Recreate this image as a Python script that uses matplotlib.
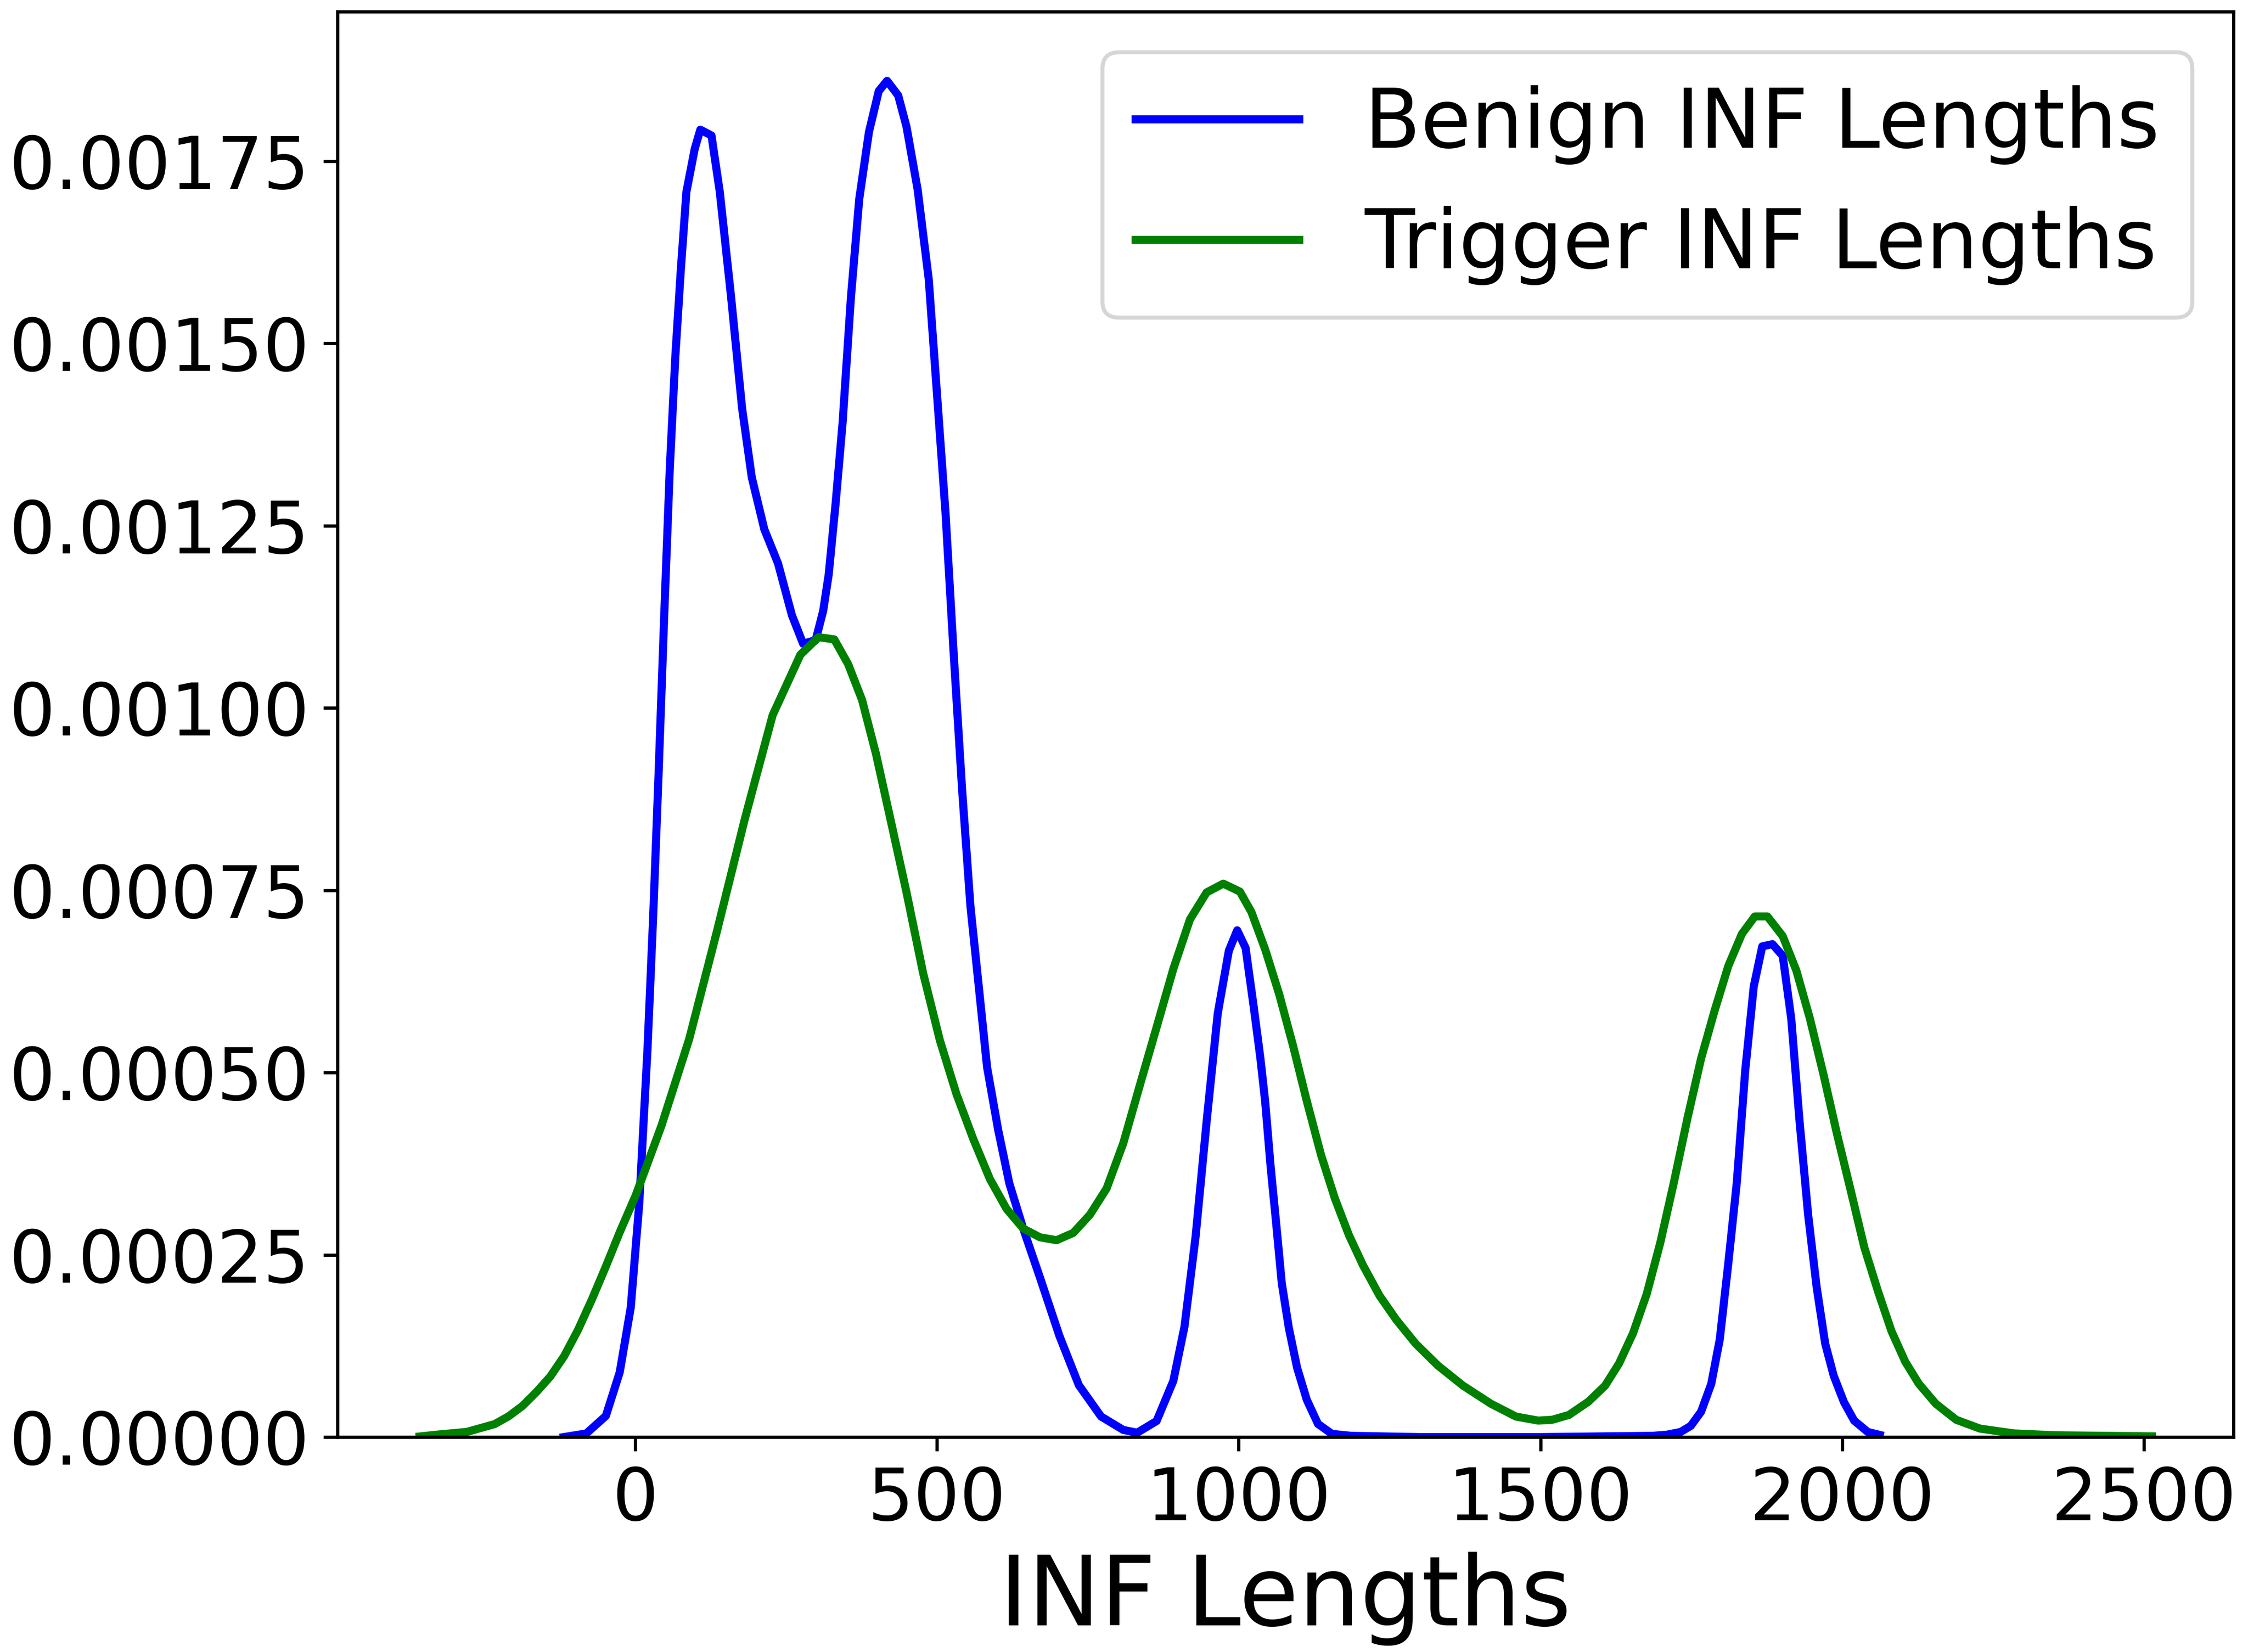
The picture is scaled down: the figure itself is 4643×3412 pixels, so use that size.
import numpy as np
import matplotlib
matplotlib.use('Agg')
import matplotlib.pyplot as plt
from matplotlib.ticker import FormatStrFormatter

# density curves (x = INF length, y = density)
benign_x = [-118, -80.6, -48.3, -25.3, -7, 7, 20.8, 30, 39.2, 48.4, 57.6, 66.8,
            75.9, 85.2, 99, 108.2, 126.7, 140.4, 159, 177.4, 193.5, 214.2, 237,
            260, 278.5, 299.3, 311.7, 320.9, 332.4, 343.9, 357.7, 371.5, 387.6,
            403.8, 417.6, 436, 449.8, 468.2, 486.6, 500.5, 514.3, 528.1, 541.9,
            555.7, 569.5, 583.3, 601.7, 620.1, 643.1, 670.8, 703, 735.3, 772.1,
            808.9, 831.9, 864.1, 891.8, 910.2, 928.6, 947, 965.4, 983.8, 997.6,
            1011.5, 1025, 1036, 1044, 1053, 1062.2, 1071.5, 1083.1, 1096.9, 1113,
            1131.5, 1154.5, 1186.8, 1300, 1500, 1685.5, 1709.7, 1732.2, 1749.1,
            1766.1, 1783, 1797.1, 1811.2, 1825.3, 1839.3, 1853.4, 1867.5, 1884.4,
            1901.4, 1915.5, 1929.5, 1943.6, 1957.7, 1971.8, 1985.9, 2002.8,
            2019.7, 2042.3, 2062]
benign_y = [0.000000, 0.000005, 0.000029, 0.000089, 0.000178, 0.000320, 0.000534,
            0.000712, 0.000913, 0.001127, 0.001328, 0.001482, 0.001601, 0.001708,
            0.001767, 0.001793, 0.001785, 0.001708, 0.001565, 0.001411, 0.001316,
            0.001245, 0.001198, 0.001127, 0.001088, 0.001093, 0.001133, 0.001183,
            0.001281, 0.001391, 0.001563, 0.001698, 0.001790, 0.001846, 0.001860,
            0.001840, 0.001797, 0.001711, 0.001588, 0.001428, 0.001269, 0.001072,
            0.000888, 0.000728, 0.000618, 0.000507, 0.000421, 0.000348, 0.000286,
            0.000219, 0.000139, 0.0000712, 0.0000282, 0.0000098, 0.000006,
            0.000022, 0.000077, 0.000151, 0.000274, 0.000433, 0.000581, 0.000667,
            0.000695, 0.000671, 0.000590, 0.000520, 0.000460, 0.000371, 0.000293,
            0.000211, 0.000150, 0.000095, 0.000051, 0.000018, 0.0000044,
            0.0000017, 0.0, 0.0, 0.0000017, 0.0000033, 0.000007, 0.0000154,
            0.0000347, 0.000073, 0.000134, 0.000238, 0.000349, 0.000503, 0.000618,
            0.000673, 0.000676, 0.000660, 0.000574, 0.000431, 0.000304, 0.000205,
            0.000128, 0.000084, 0.000048, 0.0000226, 0.000007, 0.000003]

trigger_x = [-356.8, -324.6, -278.5, -232.5, -209.5, -186.4, -163.4, -140.4,
             -117.4, -94.4, -71.3, -48.3, -25.3, 1.4, 43.8, 89.8,
             135.8, 182, 228, 274, 304, 330.1, 353.1, 376.1, 399.2, 422.2, 449.8,
             477.4, 505.1, 532.7, 560.3, 587.9, 615.5, 643.1, 670.8, 698.4, 726,
             753.7, 781.3, 808.9, 836.5, 864.1, 891.8, 919.4, 947, 974.6, 1002.2,
             1021.2, 1044.3, 1067.3, 1090.4, 1113.5, 1136.5, 1159.6, 1182.7,
             1205.8, 1233.4, 1261.1, 1293.4, 1330.3, 1371.8, 1418, 1459.5, 1496.4,
             1519.4, 1547.1, 1579.4, 1607.1, 1630.1, 1653.2, 1676, 1698.4, 1721,
             1743.5, 1766.1, 1788.6, 1811.2, 1833.7, 1855.1, 1876, 1901.4, 1923.9,
             1946.4, 1969, 1991.5, 2014.1, 2036.6, 2059.2, 2081.7, 2104.3, 2126.8,
             2155, 2188.8, 2228.3, 2284.7, 2352.3, 2513]
trigger_y = [0.0000008, 0.0000036, 0.0000071, 0.0000178, 0.0000285, 0.0000427,
             0.0000617, 0.000083, 0.000111, 0.000147, 0.000189, 0.000234,
             0.000281, 0.000332, 0.000427, 0.000546, 0.000694, 0.000848, 0.000990,
             0.001073, 0.001097, 0.001094, 0.001060, 0.001011, 0.000937, 0.000851,
             0.000747, 0.000636, 0.000544, 0.000470, 0.000409, 0.000354, 0.000313,
             0.000286, 0.000274, 0.000270, 0.000280, 0.000305, 0.000341, 0.000403,
             0.000483, 0.000562, 0.000642, 0.000710, 0.000747, 0.000759, 0.000748,
             0.000720, 0.000668, 0.000607, 0.000536, 0.000459, 0.000387, 0.000327,
             0.000277, 0.000236, 0.000194, 0.000161, 0.000128, 0.000098,
             0.0000705, 0.0000457, 0.0000281, 0.0000226, 0.0000237, 0.0000303,
             0.0000485, 0.0000705, 0.0001008, 0.000142, 0.000196, 0.000266,
             0.000349, 0.000437, 0.000519, 0.000585, 0.000646, 0.000690, 0.000714,
             0.000714, 0.000687, 0.000640, 0.000574, 0.000497, 0.000415, 0.000338,
             0.000260, 0.000200, 0.000145, 0.0001035, 0.0000732, 0.0000457,
             0.0000237, 0.0000116, 0.000005, 0.0000025, 0.000001]

x_ticks = [0, 500, 1000, 1500, 2000, 2500]
y_ticks = [0, 0.00025, 0.0005, 0.00075, 0.001, 0.00125, 0.0015, 0.00175]

fig = plt.figure(figsize=(4643 / 600, 3412 / 600), dpi=600)
ax = fig.add_axes([0.1501, 0.1301, 0.8434, 0.8629])

ax.plot(benign_x, benign_y, color='blue', linewidth=2, label='Benign INF Lengths')
ax.plot(trigger_x, trigger_y, color='green', linewidth=2, label='Trigger INF Lengths')

ax.set_xlim(-493, 2648)
ax.set_ylim(0, 0.001955)
ax.set_xticks(x_ticks)
ax.set_yticks(y_ticks)
ax.yaxis.set_major_formatter(FormatStrFormatter('%.5f'))
ax.tick_params(labelsize=18)
ax.set_xlabel('INF Lengths', fontsize=24)

ax.legend(loc='upper right', fontsize=20.3)

fig.savefig('out.png', dpi=600)
